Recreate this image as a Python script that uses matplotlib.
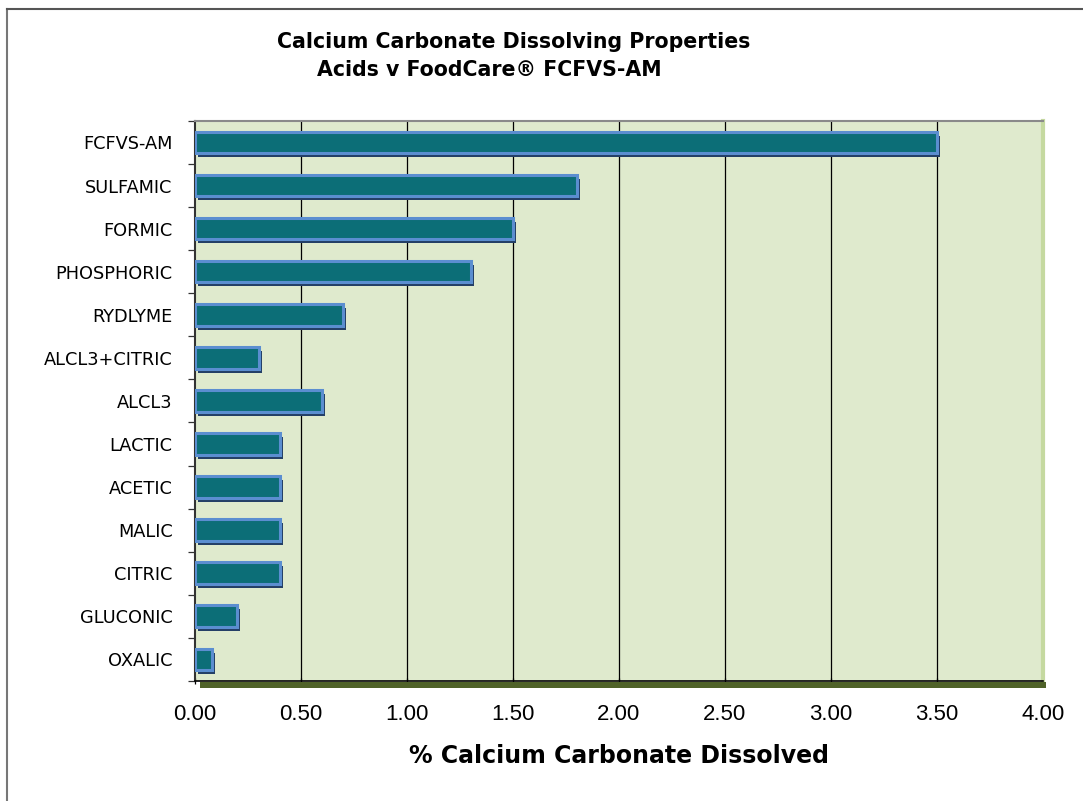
import matplotlib
matplotlib.use("Agg")
import matplotlib.pyplot as plt
import matplotlib.transforms as mtransforms
from matplotlib.patches import Rectangle
from matplotlib.lines import Line2D

categories = ["FCFVS-AM", "SULFAMIC", "FORMIC", "PHOSPHORIC", "RYDLYME",
              "ALCL3+CITRIC", "ALCL3", "LACTIC", "ACETIC", "MALIC",
              "CITRIC", "GLUCONIC", "OXALIC"]
values = [3.50, 1.80, 1.50, 1.30, 0.70, 0.30, 0.60, 0.40, 0.40, 0.40, 0.40, 0.20, 0.08]
xticks = [0.0, 0.5, 1.0, 1.5, 2.0, 2.5, 3.0, 3.5, 4.0]
xtick_labels = ["%.2f" % t for t in xticks]

fig = plt.figure(figsize=(10.83, 8.01), dpi=100)
ax = fig.add_axes([0.180, 0.150, 0.783, 0.699])
ax.set_facecolor("#DFEACD")

n = len(categories)
ypos = list(range(n - 1, -1, -1))

ax.set_xlim(0, 4.0)
ax.set_ylim(-0.5, n - 0.5)

# gridlines
for t in xticks[1:]:
    ax.axvline(t, color="#000000" if t < 4.0 else "#777777", lw=0.9, zorder=1)

# shadows
shadow_tr = ax.transData + mtransforms.ScaledTranslation(3 / 100, -4 / 100, fig.dpi_scale_trans)
bh = 0.5
for y, v in zip(ypos, values):
    ax.add_patch(Rectangle((0, y - bh / 2), v, bh, transform=shadow_tr,
                           facecolor="#243F66", edgecolor="none", zorder=2))
ax.barh(ypos, values, height=bh, color="#0C6E77", edgecolor="#5B8ED0",
        linewidth=2.2, zorder=3)

ax.set_yticks(ypos)
ax.set_yticklabels(categories, fontsize=12.8, family="DejaVu Sans")
ax.set_yticks([i - 0.5 for i in range(n + 1)], minor=True)
ax.tick_params(axis="y", which="major", length=0, pad=16)
ax.tick_params(axis="y", which="minor", length=5, width=0.9, direction="out", color="#333333")

ax.set_xticks(xticks)
ax.set_xticklabels(xtick_labels, fontsize=16, family="Liberation Sans")
ax.tick_params(axis="x", length=5, width=0.9, direction="inout", pad=14)

ax.spines["right"].set_color("#C5D9A0")
ax.spines["right"].set_linewidth(3)
ax.spines["top"].set_color("#8A8A8A")
ax.spines["top"].set_linewidth(1.5)
ax.spines["left"].set_color("#333333")
ax.spines["left"].set_linewidth(1.5)
ax.spines["bottom"].set_color("#000000")
ax.spines["bottom"].set_linewidth(1.2)

# floor band
ax.add_patch(Rectangle((0.006, -0.012), 0.998, 0.010, transform=ax.transAxes,
                       facecolor="#4F6228", edgecolor="none", clip_on=False, zorder=4))

ax.set_xlabel("% Calcium Carbonate Dissolved", fontsize=17, fontweight="bold",
              family="DejaVu Sans", labelpad=14)

fig.text(0.4746, 0.947, "Calcium Carbonate Dissolving Properties", ha="center",
         va="center", fontsize=14.8, fontweight="bold", family="DejaVu Sans")
fig.text(0.4515, 0.912, "Acids v FoodCare\u00ae FCFVS-AM", ha="center",
         va="center", fontsize=14.8, fontweight="bold", family="DejaVu Sans")

# figure border (left and top)
fig.add_artist(Line2D([0.0065, 0.0065], [0.0, 0.989], transform=fig.transFigure,
                      color="#777777", lw=1.5))
fig.add_artist(Line2D([0.0065, 1.0], [0.989, 0.989], transform=fig.transFigure,
                      color="#555555", lw=1.5))

fig.savefig("out.png", dpi=100)
